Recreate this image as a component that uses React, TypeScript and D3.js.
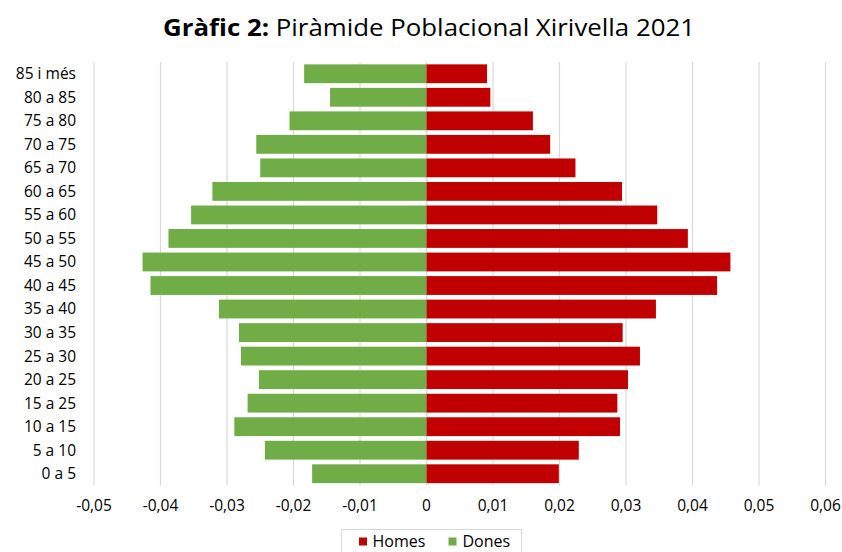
import React from "react";
import * as d3 from "d3";

const categories = ["85 i més","80 a 85","75 a 80","70 a 75","65 a 70","60 a 65","55 a 60","50 a 55","45 a 50","40 a 45","35 a 40","30 a 35","25 a 30","20 a 25","15 a 25","10 a 15","5 a 10","0 a 5"];
const dones = [-0.0184,-0.0145,-0.0206,-0.0256,-0.0250,-0.0322,-0.0354,-0.0388,-0.0427,-0.0415,-0.0312,-0.0282,-0.0279,-0.0252,-0.0269,-0.0289,-0.0243,-0.0172];
const homes = [0.0091,0.0096,0.0160,0.0186,0.0224,0.0294,0.0347,0.0393,0.0457,0.0437,0.0345,0.0295,0.0321,0.0303,0.0287,0.0291,0.0229,0.0199];
const xTicks = [-0.05,-0.04,-0.03,-0.02,-0.01,0,0.01,0.02,0.03,0.04,0.05,0.06];
const seriesNames = ["Homes","Dones"];
const colors = ["#C00000","#70AD47"];

const W = 842, H = 552;
const FONT = "'Open Sans', 'Noto Sans', sans-serif";

export default function App() {
  const x = d3.scaleLinear().domain([-0.05, 0.06]).range([94, 825.5]);
  const y = d3.scaleBand().domain(categories).range([62, 485.5]).paddingInner(0.2).paddingOuter(0.1);
  const fmt = (v: number) =>
    Math.abs(v) < 1e-9 ? "0" : d3.format(".2f")(v).replace(".", ",").replace("\u2212", "-");
  return (
    <svg width={W} height={H} style={{ position: "fixed", left: 0, top: 0, background: "#fff" }} fontFamily={FONT}>
      <rect width={W} height={H} fill="#fff" />
      <text x={429} y={36} textAnchor="middle" fontSize={23} fill="#000" textLength={532} lengthAdjust="spacingAndGlyphs">
        <tspan fontWeight="bold">Gràfic 2:</tspan>
        <tspan> Piràmide Poblacional Xirivella 2021</tspan>
      </text>
      {xTicks.map((t) => (
        <line key={"g" + t} x1={x(t)} x2={x(t)} y1={62} y2={485.5} stroke="#d9d9d9" strokeWidth={1.2} />
      ))}
      {categories.map((c, i) => (
        <g key={c}>
          <rect x={x(dones[i])} y={y(c)} width={x(0) - x(dones[i])} height={y.bandwidth()} fill={colors[1]} />
          <rect x={x(0)} y={y(c)} width={x(homes[i]) - x(0)} height={y.bandwidth()} fill={colors[0]} />
          <text x={76} y={(y(c) as number) + y.bandwidth() / 2} dy="0.35em" textAnchor="end" fontSize={15.5} fill="#000">{c}</text>
        </g>
      ))}
      {xTicks.map((t) => (
        <text key={"t" + t} x={x(t)} y={506} dy="0.35em" textAnchor="middle" fontSize={15.5} fill="#000">{fmt(t)}</text>
      ))}
      <rect x={341.5} y={529.5} width={180} height={30} fill="#fff" stroke="#d9d9d9" />
      <rect x={359} y={537.5} width={8} height={8} fill={colors[0]} />
      <text x={372.5} y={541} dy="0.35em" fontSize={16} fill="#000">{seriesNames[0]}</text>
      <rect x={448.5} y={537.5} width={8} height={8} fill={colors[1]} />
      <text x={462.5} y={541} dy="0.35em" fontSize={16} fill="#000">{seriesNames[1]}</text>
    </svg>
  );
}
